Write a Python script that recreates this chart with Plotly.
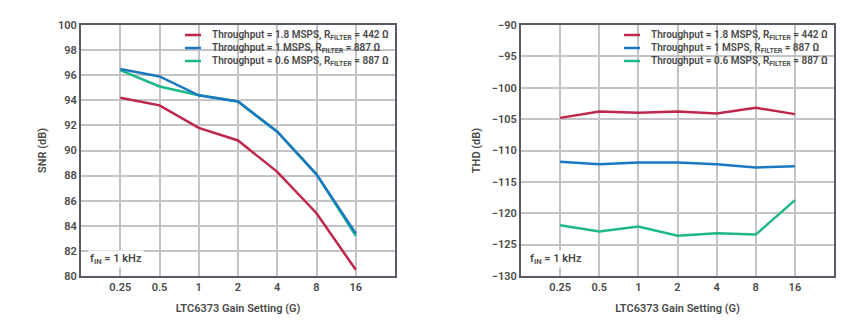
import plotly.graph_objects as go
from plotly.subplots import make_subplots

gains = ["0.25", "0.5", "1", "2", "4", "8", "16"]

snr_18 = [94.2, 93.6, 91.8, 90.8, 88.3, 85.0, 80.5]
snr_1 = [96.5, 95.9, 94.4, 93.9, 91.5, 88.1, 83.4]
snr_06 = [96.4, 95.1, 94.4, 93.9, 91.5, 88.1, 83.2]

thd_18 = [-104.8, -103.8, -104.0, -103.8, -104.1, -103.2, -104.2]
thd_1 = [-111.8, -112.2, -111.9, -111.9, -112.2, -112.7, -112.5]
thd_06 = [-121.9, -122.9, -122.1, -123.6, -123.2, -123.4, -117.9]

names = [
    "Throughput = 1.8 MSPS, R<sub>FILTER</sub> = 442 Ω",
    "Throughput = 1 MSPS, R<sub>FILTER</sub> = 887 Ω",
    "Throughput = 0.6 MSPS, R<sub>FILTER</sub> = 887 Ω",
]
colors = ["#C0254A", "#1A78C2", "#1DB887"]

W, H = 857, 323
FONT = "Roboto"
TXT = "#4a4a4a"

fig = make_subplots(rows=1, cols=2)

# draw order: red, green, blue (blue on top of green as in the reference)
order = [0, 2, 1]
snr = [snr_18, snr_1, snr_06]
thd = [thd_18, thd_1, thd_06]
for i in order:
    fig.add_trace(go.Scatter(x=gains, y=snr[i], mode="lines", name=names[i],
                             line=dict(color=colors[i], width=2.5), showlegend=False),
                  row=1, col=1)
for i in order:
    fig.add_trace(go.Scatter(x=gains, y=thd[i], mode="lines", name=names[i],
                             line=dict(color=colors[i], width=2.5), showlegend=False),
                  row=1, col=2)


def px_x(p):
    return p / W


def px_y(p):
    return 1 - p / H


yb, yt = px_y(276), px_y(25)

axis_common = dict(
    showgrid=True, gridcolor="#c4c4c8", gridwidth=1.5,
    showline=True, linecolor="#5a5a64", linewidth=2, mirror=True,
    ticks="", zeroline=False, automargin=False,
    tickfont=dict(family=FONT, size=11, color=TXT, weight=600),
    title_font=dict(family=FONT, size=11, color=TXT, weight=600),
)

fig.update_layout(
    width=W, height=H,
    margin=dict(l=0, r=0, t=0, b=0),
    paper_bgcolor="white", plot_bgcolor="white",
    font=dict(family=FONT, color=TXT),
    showlegend=False,
    xaxis=dict(domain=[px_x(81), px_x(395)], type="category", range=[-1, 7],
               title=dict(text="LTC6373 Gain Setting (G)", standoff=11), **axis_common),
    xaxis2=dict(domain=[px_x(521), px_x(834)], type="category", range=[-1, 7],
                title=dict(text="LTC6373 Gain Setting (G)", standoff=11), **axis_common),
    yaxis=dict(domain=[yb, yt], range=[80, 100], dtick=2,
               title=dict(text="SNR (dB)", standoff=9), **axis_common),
    yaxis2=dict(domain=[yb, yt], range=[-130, -90], dtick=5,
                title=dict(text="THD (dB)", standoff=9), **axis_common),
)

# legend boxes (drawn manually for compact row spacing like the reference)
legend_specs = [
    dict(box=(178, 393), line=(185, 201), text=210),
    dict(box=(617, 832), line=(624, 640), text=649),
]
row_y = [35, 48, 61]
for spec in legend_specs:
    fig.add_shape(type="rect", xref="paper", yref="paper",
                  x0=px_x(spec["box"][0]), x1=px_x(spec["box"][1]),
                  y0=px_y(70), y1=px_y(26.5),
                  fillcolor="white", line=dict(width=0), layer="between")
    for k in range(3):
        fig.add_shape(type="line", xref="paper", yref="paper",
                      x0=px_x(spec["line"][0]), x1=px_x(spec["line"][1]),
                      y0=px_y(row_y[k]), y1=px_y(row_y[k]),
                      line=dict(color=colors[k], width=2.5), layer="above")
        fig.add_annotation(xref="paper", yref="paper",
                           x=px_x(spec["text"]), y=px_y(row_y[k] + 0.5),
                           xanchor="left", yanchor="middle",
                           text=names[k], showarrow=False,
                           font=dict(family=FONT, size=10, color=TXT, weight=600))

for xr, yr in [("x domain", "y domain"), ("x2 domain", "y2 domain")]:
    fig.add_annotation(xref=xr, yref=yr,
                       x=0.022, y=0.03, xanchor="left", yanchor="bottom",
                       text="f<sub>IN</sub> = 1 kHz", showarrow=False,
                       bgcolor="white",
                       font=dict(family=FONT, size=11, color=TXT, weight=600))

fig.write_html("out.html")
